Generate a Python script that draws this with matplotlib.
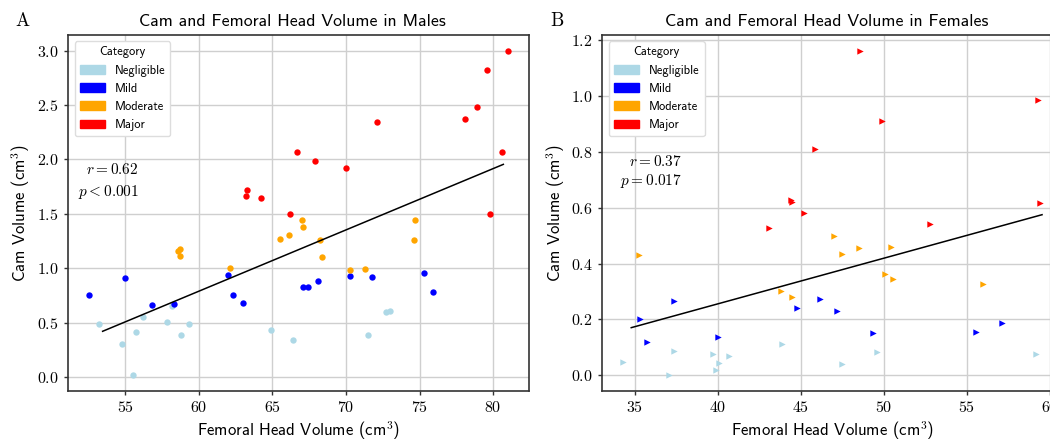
import matplotlib
matplotlib.use("Agg")
import matplotlib.pyplot as plt
from matplotlib.patches import Patch

plt.rcParams['mathtext.fontset'] = 'cm'
plt.rcParams['axes.unicode_minus'] = False
plt.rcParams['axes.formatter.use_mathtext'] = True

categories = ["Negligible", "Mild", "Moderate", "Major"]
cat_colors = ["lightblue", "blue", "orange", "red"]

# ---- Males (panel A) ----
male_negligible_x = [53.2, 54.8, 55.5, 55.7, 56.2, 57.8, 58.2, 58.8, 59.3, 64.9, 66.4, 71.5, 72.7, 73.0]
male_negligible_y = [0.49, 0.30, 0.02, 0.41, 0.55, 0.51, 0.65, 0.39, 0.49, 0.43, 0.34, 0.39, 0.60, 0.61]
male_mild_x = [52.5, 55.0, 56.8, 58.3, 62.0, 62.3, 63.0, 67.1, 67.4, 68.1, 70.3, 71.8, 75.3, 75.9]
male_mild_y = [0.75, 0.91, 0.66, 0.67, 0.94, 0.75, 0.68, 0.83, 0.83, 0.88, 0.93, 0.92, 0.96, 0.78]
male_moderate_x = [67.0, 67.1, 74.7, 65.5, 66.1, 58.7, 58.6, 58.7, 68.2, 74.6, 68.4, 62.1, 70.3, 71.3]
male_moderate_y = [1.44, 1.38, 1.44, 1.27, 1.31, 1.18, 1.16, 1.11, 1.26, 1.26, 1.10, 1.00, 0.98, 0.99]
male_major_x = [81.0, 79.6, 78.9, 78.1, 72.1, 80.6, 66.7, 67.9, 70.0, 63.3, 63.2, 64.2, 66.2, 79.8]
male_major_y = [3.00, 2.82, 2.48, 2.37, 2.34, 2.07, 2.07, 1.99, 1.92, 1.72, 1.66, 1.65, 1.50, 1.50]
male_fit_x = [53.45, 80.7]
male_fit_y = [0.42, 1.955]
male_stats = ["$r = 0.62$", "$p < 0.001$"]

# ---- Females (panel B) ----
female_negligible_x = [34.3, 37.1, 37.4, 39.7, 40.1, 39.9, 40.7, 43.9, 47.5, 49.6, 59.2]
female_negligible_y = [0.046, 0.001, 0.087, 0.075, 0.044, 0.018, 0.068, 0.111, 0.040, 0.083, 0.074]
female_mild_x = [35.35, 37.35, 35.75, 40.05, 44.8, 46.2, 47.2, 49.35, 55.6, 57.15]
female_mild_y = [0.200, 0.267, 0.120, 0.135, 0.240, 0.273, 0.230, 0.150, 0.153, 0.187]
female_moderate_x = [35.25, 47.0, 47.5, 48.5, 50.45, 50.1, 50.6, 56.0, 43.8, 44.5]
female_moderate_y = [0.431, 0.498, 0.434, 0.454, 0.459, 0.364, 0.343, 0.326, 0.302, 0.280]
female_major_x = [48.6, 59.3, 49.9, 45.85, 44.45, 44.5, 45.2, 59.45, 43.1, 52.8]
female_major_y = [1.163, 0.987, 0.910, 0.810, 0.627, 0.620, 0.580, 0.618, 0.526, 0.540]
female_fit_x = [34.8, 59.55]
female_fit_y = [0.170, 0.575]
female_stats = ["$r = 0.37$", "$p = 0.017$"]

W, H = 1050, 443
fig = plt.figure(figsize=(W / 100, H / 100), dpi=100)

ax_bottom = (H - 391) / H
ax_h = 356.5 / H
ax_w = 461 / W
axA = fig.add_axes([67.7 / W, ax_bottom, ax_w, ax_h])
axB = fig.add_axes([602 / W, ax_bottom, ax_w, ax_h])

sans = 'cmss10'
serif = 'cmr10'


def style(ax, title, marker, groups_x, groups_y, fit_x, fit_y, stats, stat_x, stat_y, letter, letter_x):
    for gx, gy, col in zip(groups_x, groups_y, cat_colors):
        ax.scatter(gx, gy, s=21, c=col, marker=marker, linewidths=0, zorder=3)
    ax.plot(fit_x, fit_y, color='black', lw=1.1, zorder=4)
    ax.grid(True, color='#cfcfcf', lw=1.0)
    ax.set_axisbelow(True)
    for sp in ax.spines.values():
        sp.set_color('#333333')
        sp.set_linewidth(1.2)
    ax.tick_params(direction='out', length=3.2, width=1, color='#333333', labelsize=11.5, pad=3.5)
    for lab in ax.get_xticklabels() + ax.get_yticklabels():
        lab.set_fontfamily(serif)
    ax.set_title(title, fontfamily=sans, fontsize=12.8, pad=6, x=0.487)
    ax.set_xlabel("Femoral Head Volume (cm$^3$)", fontfamily=sans, fontsize=12, labelpad=3)
    ax.set_ylabel("Cam Volume (cm$^3$)", fontfamily=sans, fontsize=12, labelpad=3)
    handles = [Patch(facecolor=c, edgecolor=c, label=l) for c, l in zip(cat_colors, categories)]
    leg = ax.legend(handles=handles, title="Category", loc='upper left',
                    prop={'family': sans, 'size': 9}, title_fontsize=9, frameon=True,
                    fancybox=True, framealpha=1.0, edgecolor='#dddddd',
                    borderaxespad=0.55)
    leg.get_title().set_fontfamily(sans)
    ax.text(stat_x, stat_y[0], stats[0], transform=ax.transAxes, ha='right', va='baseline', fontsize=11)
    ax.text(stat_x, stat_y[1], stats[1], transform=ax.transAxes, ha='right', va='baseline', fontsize=11)
    fig.text(letter_x, 1 - 26.4 / H, letter, fontfamily=serif, fontsize=13.5, ha='left', va='baseline')


style(axA, "Cam and Femoral Head Volume in Males", 'o',
      [male_negligible_x, male_mild_x, male_moderate_x, male_major_x],
      [male_negligible_y, male_mild_y, male_moderate_y, male_major_y],
      male_fit_x, male_fit_y, male_stats, 0.1538, (0.608, 0.547), "A", 15 / W)
style(axB, "Cam and Femoral Head Volume in Females", '>',
      [female_negligible_x, female_mild_x, female_moderate_x, female_major_x],
      [female_negligible_y, female_mild_y, female_moderate_y, female_major_y],
      female_fit_x, female_fit_y, female_stats, 0.174, (0.632, 0.577), "B", 550 / W)

fig.savefig("out.png", dpi=100)
